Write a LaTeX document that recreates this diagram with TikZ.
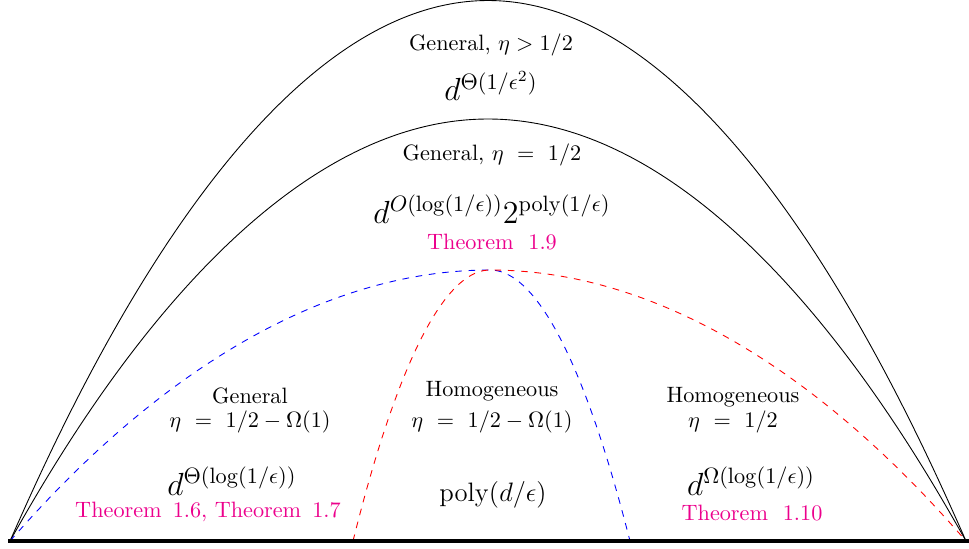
\documentclass[tikz,border=0pt]{standalone}
\usepackage{amsmath}
\definecolor{thmcol}{RGB}{236,0,140}
\begin{document}
\begin{tikzpicture}[x=0.45pt,y=-0.45pt,
  lbl/.style={inner sep=0pt,font=\normalsize},
  frm/.style={inner sep=0pt,font=\Large},
  frmsmall/.style={inner sep=0pt,font=\large},
  thm/.style={inner sep=0pt,text=thmcol},
  bluedash/.style={blue,dashed},
  reddash/.style={red,dashed}]
\useasboundingbox (0,0) rectangle (969,548);
% points
\coordinate (L) at (10,541);
\coordinate (R) at (966,541);
\coordinate (Lb) at (8,541);
\coordinate (Rb) at (969,541);
\coordinate (A1) at (488,0.5);
\coordinate (A2) at (488,119);
\coordinate (V) at (490,270);
\coordinate (Bend) at (630,541);
\coordinate (Rst) at (353,541);
% curves
\draw (L) parabola bend (A1) (R);
\draw (L) parabola bend (A2) (R);
\draw[bluedash] (L) parabola bend (V) (Bend);
\draw[reddash] (Rst) parabola bend (V) (R);
\draw[line width=1.8pt] (Lb) -- (Rb);
% top
\node[lbl] (t1) at (491,45) {General, $\eta > 1/2$};
\node[frm] (t2) at (491,86) {$d^{\Theta(1/\epsilon^2)}$};
\node[lbl] (m1) at (492,155) {General, $\eta\ =\ 1/2$};
\node[frm] (m2) at (492,209) {$d^{O(\log(1/\epsilon))}2^{\mathrm{poly}(1/\epsilon)}$};
\node[thm] (m3) at (492,242) {Theorem~~1.9};
% left
\node[lbl] (l1) at (250,396) {General};
\node[lbl] (l2) at (250,422) {$\eta\ =\ 1/2 - \Omega(1)$};
\node[frm] (l3) at (232,481) {$d^{\Theta(\log(1/\epsilon))}$};
\node[thm] (l4) at (208,512) {Theorem~\,1.6, Theorem~\,1.7};
% middle
\node[lbl] (c1) at (492,391) {Homogeneous};
\node[lbl] (c2) at (492,422) {$\eta\ =\ 1/2 - \Omega(1)$};
\node[frmsmall] (c3) at (493,495) {$\mathrm{poly}(d/\epsilon)$};
% right
\node[lbl] (r1) at (733,397) {Homogeneous};
\node[lbl] (r2) at (733,422) {$\eta\ =\ 1/2$};
\node[frm] (r3) at (751,481) {$d^{\Omega(\log(1/\epsilon))}$};
\node[thm] (r4) at (752,513) {Theorem~~1.10};
\end{tikzpicture}
\end{document}
